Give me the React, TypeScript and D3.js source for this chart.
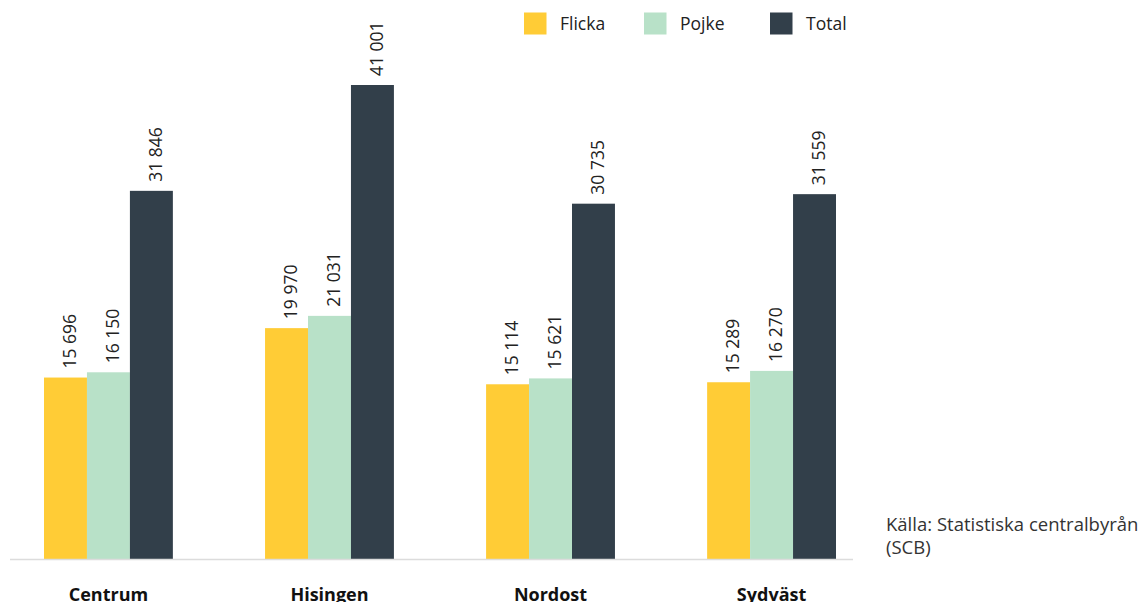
import React from "react";
import * as d3 from "d3";

const categories = ["Centrum", "Hisingen", "Nordost", "Sydväst"];
const seriesNames = ["Flicka", "Pojke", "Total"];
const flicka = [15696, 19970, 15114, 15289];
const pojke = [16150, 21031, 15621, 16270];
const total = [31846, 41001, 30735, 31559];
const colors = ["#FFCC36", "#B8E1C8", "#323F4A"];
const sourceLines = ["Källa: Statistiska centralbyrån", "(SCB)"];

const W = 1139;
const H = 602;
const FONT = "'Open Sans', 'DejaVu Sans', sans-serif";

export default function App() {
  const values = [flicka, pojke, total];
  const x0 = d3
    .scaleBand<string>()
    .domain(categories)
    .range([44, 836])
    .paddingInner(0.417)
    .paddingOuter(0);
  const x1 = d3
    .scaleBand<string>()
    .domain(seriesNames)
    .range([0, x0.bandwidth()])
    .padding(0);
  const y = d3.scaleLinear().domain([0, 41001]).range([559, 85]);
  const fmt = d3.formatLocale({
    decimal: ",",
    thousands: " ",
    grouping: [3],
    currency: ["", " kr"],
  }).format(",d");

  const legendX = [524, 644, 770];

  return (
    <svg
      width={W}
      height={H}
      style={{ position: "absolute", left: 0, top: 0, display: "block" }}
      fontFamily={FONT}
    >
      <rect width={W} height={H} fill="#fff" />
      {categories.map((c, ci) => (
        <g key={c} transform={`translate(${x0(c)},0)`}>
          {seriesNames.map((s, si) => {
            const v = values[si][ci];
            const bx = x1(s)!;
            const bw = x1.bandwidth();
            const top = y(v);
            const cx = bx + bw / 2;
            return (
              <g key={s}>
                <rect x={bx} y={top} width={bw} height={y(0) - top} fill={colors[si]} />
                <text
                  transform={`translate(${cx + 4},${top - 9}) rotate(-90)`}
                  dy="0.35em"
                  fontSize={17.5}
                  fill="#222"
                  textAnchor="start"
                >
                  {fmt(v)}
                </text>
              </g>
            );
          })}
          <text
            x={x0.bandwidth() / 2}
            y={601}
            textAnchor="middle"
            fontWeight="bold"
            fontSize={18}
            fill="#111"
          >
            {c}
          </text>
        </g>
      ))}
      <line x1={10} x2={853} y1={559.5} y2={559.5} stroke="#dcdcdc" strokeWidth={1.5} />
      {seriesNames.map((s, i) => (
        <g key={s} transform={`translate(${legendX[i]},12.5)`}>
          <rect width={22.5} height={22} fill={colors[i]} />
          <text x={36} y={11} dy="0.35em" fontSize={17.5} fill="#222">
            {s}
          </text>
        </g>
      ))}
      {sourceLines.map((t, i) => (
        <text key={i} x={886} y={531} dy={i * 23} fontSize={18.5} fill="#333">
          {t}
        </text>
      ))}
    </svg>
  );
}
